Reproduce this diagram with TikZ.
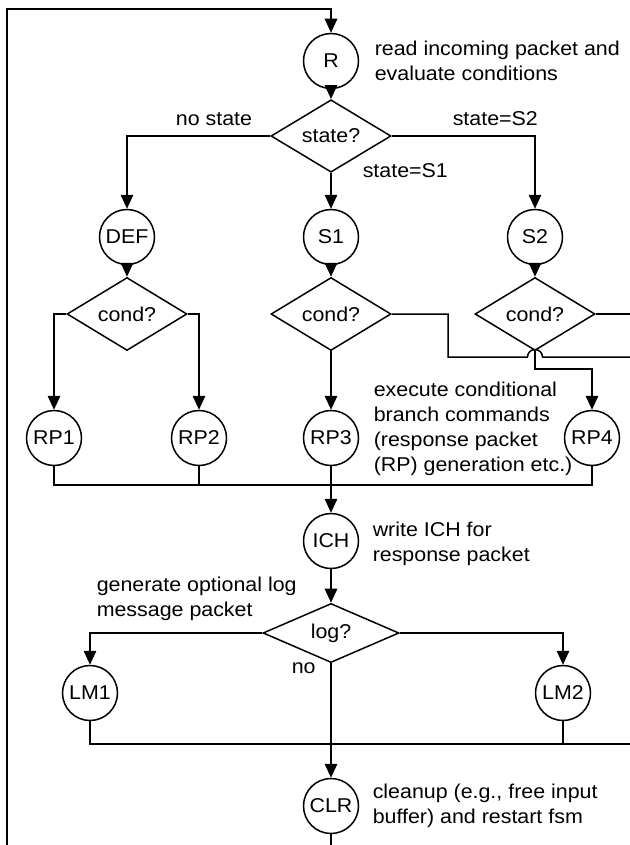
\documentclass[tikz,border=0pt]{standalone}
\usepackage{fontspec}
\setmainfont{Liberation Sans}[FakeStretch=1.07]
\usetikzlibrary{shapes.geometric,arrows.meta}

\tikzset{
  proc/.style={circle, draw, minimum size=55bp, inner sep=0pt},
  dec/.style={diamond, draw, minimum width=120bp, minimum height=55bp, inner sep=0pt},
  note/.style={anchor=base west, inner sep=0pt},
  arr/.style={-{Triangle[length=14bp,width=12.5bp]}},
}

\begin{document}
\begin{tikzpicture}[x=1bp, y=-1bp, line width=1.5bp,
    every node/.style={font=\fontsize{20bp}{25bp}\selectfont}]
  \useasboundingbox (0,0) rectangle (630,845);
  \clip (0,0) rectangle (630,845);

  % states and decisions
  \node[proc] (R)   at (331,61)  {R};
  \node[dec]  (st)  at (331,136) {state?};
  \node[proc] (DEF) at (127,237) {DEF};
  \node[proc] (S1)  at (331,237) {S1};
  \node[proc] (S2)  at (535,237) {S2};
  \node[dec]  (c1)  at (127,314) {cond?};
  \node[dec]  (c2)  at (331,314) {cond?};
  \node[dec]  (c3)  at (535,314) {cond?};
  \node[proc] (RP1) at (54,438)  {RP1};
  \node[proc] (RP2) at (199,438) {RP2};
  \node[proc] (RP3) at (331,438) {RP3};
  \node[proc] (RP4) at (592,438) {RP4};
  \node[proc] (ICH) at (331,541) {ICH};
  \node[dec, minimum width=136bp, minimum height=54bp] (lg) at (331,633) {log?};
  \node[proc] (LM1) at (90,693)  {LM1};
  \node[proc] (LM2) at (563,693) {LM2};
  \node[proc] (CLR) at (331,806) {CLR};

  % bend points and free ends
  \coordinate (k1)   at (448,357);
  \coordinate (hopL) at (527.5,357);
  \coordinate (out1) at (640,357);
  \coordinate (out2) at (640,314);
  \coordinate (k2)   at (535,369);
  \coordinate (m1)   at (331,485);
  \coordinate (out3) at (640,744);
  \coordinate (lb)   at (331,870);
  \coordinate (lc)   at (7,870);
  \coordinate (lt)   at (7,9);

  % connectors
  \draw[arr] (CLR) -- (lb) -- (lc) -- (lt) -| (R);
  \draw[arr] (R) -- (st);
  \draw[arr] (st.west) -| (DEF);
  \draw[arr] (st) -- (S1);
  \draw[arr] (st.east) -| (S2);
  \draw[arr] (DEF) -- (c1);
  \draw[arr] (S1) -- (c2);
  \draw[arr] (S2) -- (c3);
  \draw[arr] (c1.west) -| (RP1);
  \draw[arr] (c1.east) -| (RP2);
  \draw[arr] (c2) -- (RP3);
  \draw (c2.east) -| (k1) -- (hopL)
        arc[start angle=180, end angle=0, radius=7.5bp] -- (out1);
  \draw (c3.east) -- (out2);
  \draw[arr] (c3.south) -- (k2) -| (RP4);
  \draw (RP1) |- (m1);
  \draw (RP2) |- (m1);
  \draw (RP4) |- (m1);
  \draw[arr] (RP3) -- (ICH);
  \draw[arr] (ICH) -- (lg);
  \draw[arr] (lg.west) -| (LM1);
  \draw[arr] (lg.east) -| (LM2);
  \draw (LM1) |- (out3);
  \draw (LM2) |- (out3);
  \draw[arr] (lg) -- (CLR);

  % annotations
  \node[note] (tR1) at (374,55)  {read incoming packet and};
  \node[note] (tR2) at (374,80)  {evaluate conditions};
  \node[anchor=base, inner sep=0pt] (tno) at (214,125) {no state};
  \node[note] (tS2) at (452,125) {state=S2};
  \node[note] (tS1) at (362,177) {state=S1};
  \node[note] (tE1) at (373,396) {execute conditional};
  \node[note] (tE2) at (373,421) {branch commands};
  \node[note] (tE3) at (373,446) {(response packet};
  \node[note] (tE4) at (373,471) {(RP) generation etc.)};
  \node[note] (tI1) at (372,536) {write ICH for};
  \node[note] (tI2) at (372,561) {response packet};
  \node[note] (tG1) at (96,591)  {generate optional log};
  \node[note] (tG2) at (96,616)  {message packet};
  \node[note] (tN)  at (291,673) {no};
  \node[note] (tC1) at (372,798) {cleanup (e.g., free input};
  \node[note] (tC2) at (372,823) {buffer) and restart fsm};
\end{tikzpicture}
\end{document}
